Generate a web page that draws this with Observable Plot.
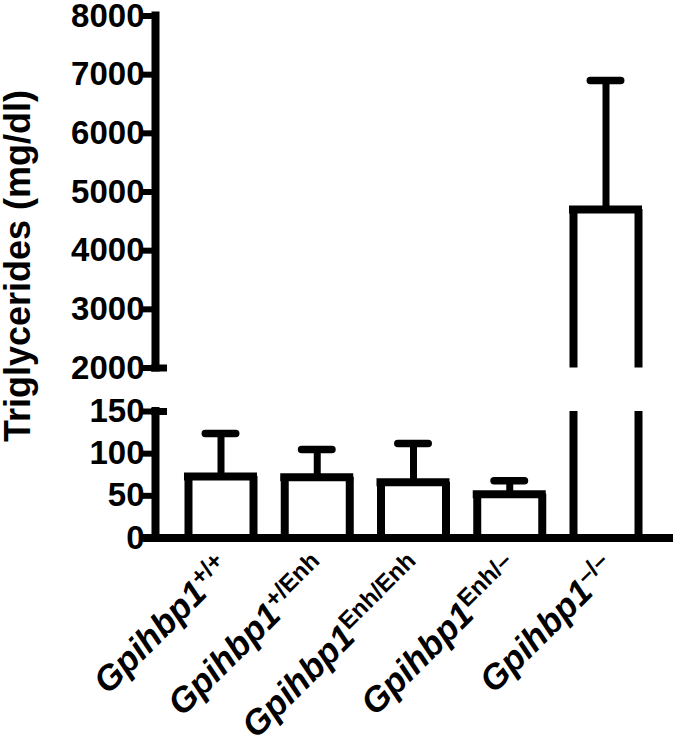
<!DOCTYPE html>
<html><head><meta charset="utf-8">
<script src="https://cdn.jsdelivr.net/npm/d3@7"></script>
<script src="https://cdn.jsdelivr.net/npm/@observablehq/plot@0.6"></script>
<style>body{margin:0;background:#fff} #chart{width:673px;height:748px}</style>
</head><body><div id="chart"></div>
<script>
// ---- data ----
const genes = ["Gpihbp1", "Gpihbp1", "Gpihbp1", "Gpihbp1", "Gpihbp1"];
const genotypes = ["+/+", "+/Enh", "Enh/Enh", "Enh/–", "–/–"];
const means = [73, 72, 66, 52, 4700];
const errors = [51, 33, 46, 16, 2200];
const lowerTicks = [0, 50, 100, 150];
const upperTicks = [2000, 3000, 4000, 5000, 6000, 7000, 8000];
const yTitle = "Triglycerides (mg/dl)";
const breakLow = 150, breakHigh = 2000, yMax = 8000;

// ---- layout / style constants ----
const halfBar = 0.3377, halfCap = 0.158;
const xDomain = [-0.6805, 4.7013];

const data = genotypes.map((g, i) => ({i, gene: genes[i], sup: g, mean: means[i], err: errors[i]}));
const sides = data.flatMap(d => {
  const segs = [{y1: 0, y2: Math.min(d.mean, breakLow)}];
  if (d.mean > breakHigh) segs.push({y1: breakHigh, y2: d.mean});
  return segs.flatMap(s => [-1, 1].map(k => ({x: d.i + k * halfBar, ...s})));
});
const axisSegments = [{y1: 0, y2: breakLow}, {y1: breakHigh, y2: yMax}];

const plot = Plot.plot({
  width: 673, height: 748,
  marginLeft: 155, marginRight: 0, marginTop: 15.5, marginBottom: 210.5,
  style: {fontFamily: "'Liberation Sans', Arial, Helvetica, sans-serif", background: "#fff", overflow: "visible", color: "#000"},
  x: {type: "linear", domain: xDomain, axis: null},
  y: {type: "linear", domain: [0, breakLow, breakHigh, yMax], range: [537.5, 411, 367.5, 15.5], axis: null},
  marks: [
    // error stems and caps
    Plot.ruleX(data, {x: "i", y1: "mean", y2: d => d.mean + d.err, stroke: "#000", strokeWidth: 7}),
    Plot.ruleY(data, {y: d => d.mean + d.err, x1: d => d.i - halfCap, x2: d => d.i + halfCap, stroke: "#000", strokeWidth: 7.5, strokeLinecap: "round"}),
    // bar outlines
    Plot.ruleX(sides, {x: "x", y1: "y1", y2: "y2", stroke: "#000", strokeWidth: 8}),
    Plot.ruleY(data, {y: "mean", x1: d => d.i - halfBar, x2: d => d.i + halfBar, insetLeft: -4, insetRight: -4, stroke: "#000", strokeWidth: 8}),
    // x baseline
    Plot.ruleY([0], {stroke: "#000", strokeWidth: 8, insetLeft: -12}),
    // broken y axis
    Plot.ruleX(axisSegments, {x: () => xDomain[0], y1: "y1", y2: "y2", stroke: "#000", strokeWidth: 8, strokeLinecap: "square"}),
    Plot.ruleY([breakLow, breakHigh], {y: d => d, x1: () => xDomain[0], x2: () => xDomain[0], insetLeft: -4, insetRight: -12, stroke: "#000", strokeWidth: 7}),
    Plot.axisY(lowerTicks.concat(upperTicks), {anchor: "left", tickSize: 14, tickPadding: -3, strokeWidth: 6, tickFormat: d => String(d), fontSize: 33, fontWeight: "bold"}),
    // category labels (rich text added below)
    Plot.text(data, {x: "i", y: () => 0, text: d => d.gene + d.sup, rotate: -45, textAnchor: "end", lineAnchor: "bottom", dx: 12, dy: 32.5, fontSize: 35, fontWeight: "bold", fill: "#000", className: "xlabels"}),
    // y title
    Plot.text([yTitle], {frameAnchor: "left", text: d => d, rotate: -90, textAnchor: "middle", dx: -137.3, dy: -11, fontSize: 36, fontWeight: "bold", fill: "#000", className: "ytitle"})
  ]
});

// italic gene name + upright superscript genotype
let labelTexts = plot.querySelectorAll("g.xlabels text");
if (!labelTexts.length) {
  const g = plot.querySelector('g[aria-label="text"]');
  labelTexts = g ? g.querySelectorAll("text") : [];
}
labelTexts.forEach((el, k) => {
  const idx = (el.__data__ !== undefined && data[el.__data__]) ? el.__data__ : k;
  const d = data[idx];
  const t = d3.select(el);
  t.text(null);
  t.append("tspan").attr("font-style", "italic").text(d.gene);
  t.append("tspan").attr("font-size", 24).attr("dy", -12).text(d.sup);
});

document.getElementById("chart").append(plot);
</script>
</body></html>
